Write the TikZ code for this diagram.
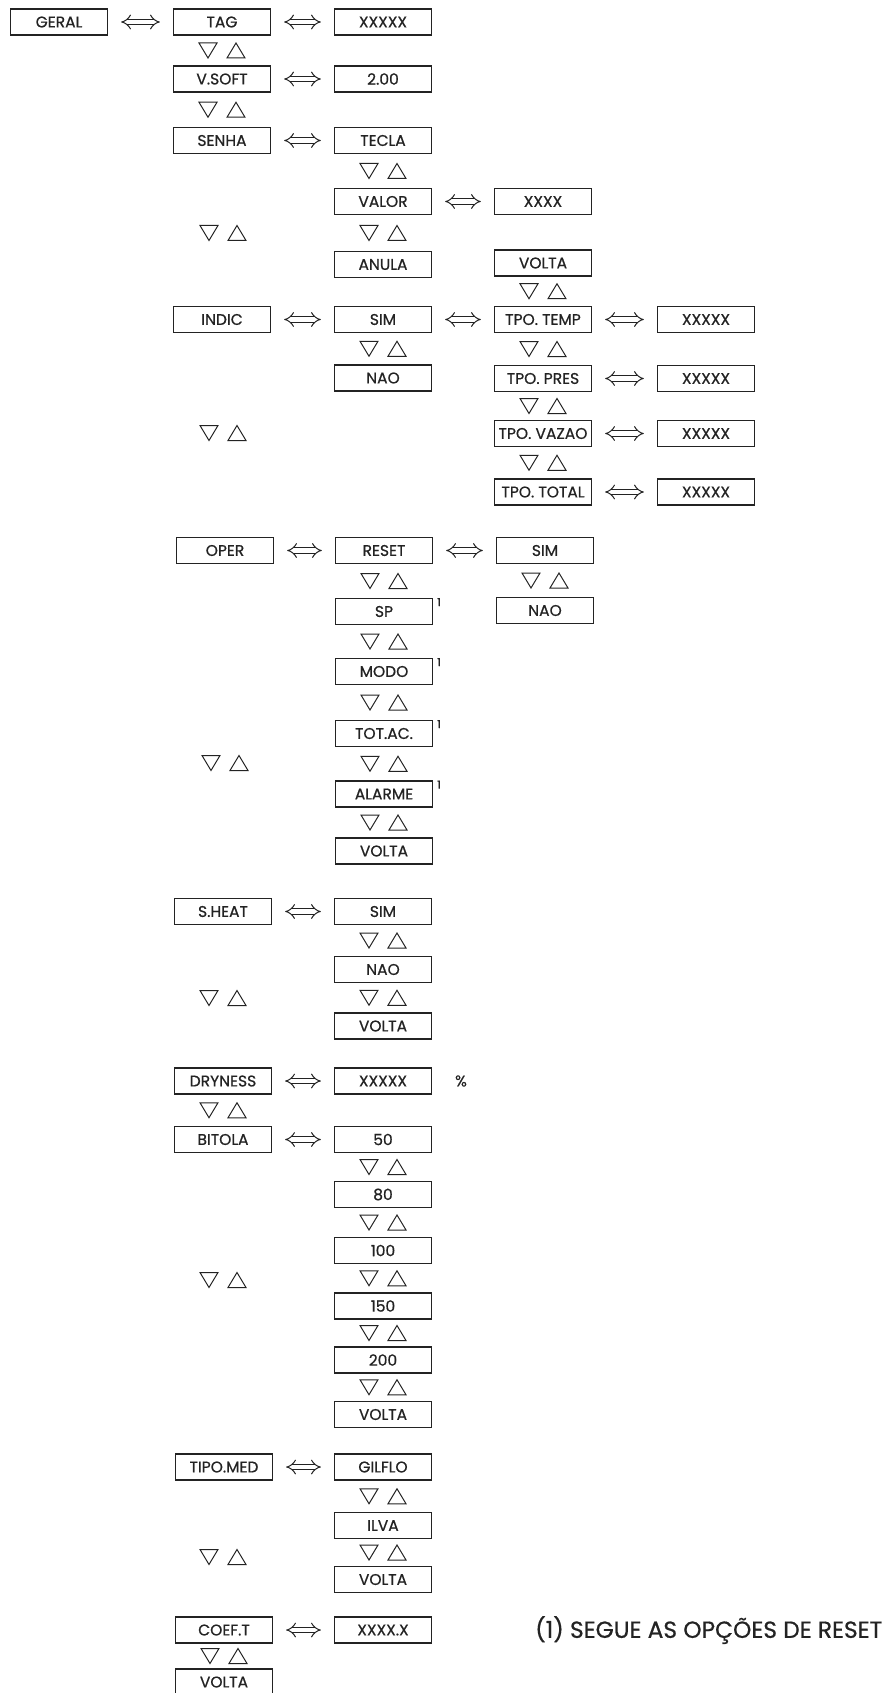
\documentclass[tikz,border=0pt]{standalone}
\usepackage{fontspec}
\setmainfont{Poppins}[FakeBold=0.7]
\usetikzlibrary{arrows.meta, calc}
\definecolor{inkgray}{RGB}{35, 35, 35}

\tikzset{
  menubox/.style={draw=inkgray, line width=1.2pt, minimum width=97pt, minimum height=26pt,
    inner sep=0pt, text=inkgray, font=\fontsize{15.5}{16}\selectfont},
  dblarrow/.style={draw=inkgray, double, double distance=4.2pt, line width=1pt,
    {Implies[length=6pt, width=15pt]}-{Implies[length=6pt, width=15pt]},
    shorten <=13pt, shorten >=13pt},
  navtri/.style={draw=inkgray, line width=1pt, line join=miter},
  fnmark/.style={anchor=north west, inner sep=0pt, text=inkgray, font=\fontsize{11}{11}\selectfont},
  updown/.pic={
    \draw[navtri] (-23,-7.5) -- (-5,-7.5) -- (-14,7.5) -- cycle;
    \draw[navtri] (5,7.5) -- (23,7.5) -- (14,-7.5) -- cycle;
  }
}

\begin{document}
\begin{tikzpicture}[x=1pt, y=-1pt]
    \useasboundingbox (0,0) rectangle (890,1693);
    \clip (0,0) rectangle (890,1693);
    % menu boxes
    \foreach \n/\x/\y/\t in {
        geral/59/22/GERAL, tag/222/22/TAG, tagval/383/22/XXXXX,
        vsoft/222/79/V.SOFT, vsoftval/383/79/2.00,
        senha/222/140.5/SENHA, tecla/383/140.5/TECLA,
        valor/383/201.5/VALOR, valorval/543/201.5/XXXX,
        anula/383/264.5/ANULA, tpovolta/543/263/VOLTA,
        indic/222/319.5/INDIC, indsim/383/319.5/SIM, indnao/383/378/NAO,
        tpotemp/543/319.5/TPO. TEMP, tempval/706/319.5/XXXXX,
        tpopres/543/378.5/TPO. PRES, presval/706/378.5/XXXXX,
        tpovazao/543/433.5/TPO. VAZAO, vazaoval/706/433.5/XXXXX,
        tpototal/543/492/TPO. TOTAL, totalval/706/492/XXXXX,
        oper/225/550.5/OPER, reset/384/550.5/RESET, rstsim/545/550.5/SIM, rstnao/545/610.5/NAO,
        sp/384/611.5/SP, modo/384/671.5/MODO, totac/384/733.5/TOT.AC.,
        alarme/384/794/ALARME, opvolta/384/851/VOLTA,
        sheat/223/911.5/S.HEAT, shsim/383/911.5/SIM, shnao/383/969.5/NAO, shvolta/383/1026/VOLTA,
        dryness/223/1081/DRYNESS, dryval/383/1081/XXXXX,
        bitola/223/1139.5/BITOLA, b50/383/1139.5/50, b80/383/1194.5/80,
        b100/383/1250.5/100, b150/383/1306/150, b200/383/1360/200, bvolta/383/1414.5/VOLTA,
        tipomed/224/1467/TIPO.MED, gilflo/383/1467/GILFLO,
        ilva/383/1525.5/ILVA, tmvolta/383/1579.5/VOLTA,
        coeft/224/1630/COEF.T, coefval/383/1630/XXXX.X,
        endvolta/224/1682/VOLTA
    }{
      \node[menubox] (\n) at (\x,\y) {\t};
    }
    % enter / leave
    \foreach \a/\b in {geral/tag, tag/tagval, vsoft/vsoftval, senha/tecla, valor/valorval,
        indic/indsim, indsim/tpotemp, tpotemp/tempval, tpopres/presval,
        tpovazao/vazaoval, tpototal/totalval, oper/reset, reset/rstsim,
        sheat/shsim, dryness/dryval, bitola/b50, tipomed/gilflo, coeft/coefval}{
      \draw[dblarrow] (\a) -- (\b);
    }
    % scroll keys between boxes
    \foreach \a/\b in {tag/vsoft, vsoft/senha, tecla/valor, valor/anula,
        tpovolta/tpotemp, tpotemp/tpopres, tpopres/tpovazao, tpovazao/tpototal,
        indsim/indnao, reset/sp, sp/modo, modo/totac, totac/alarme, alarme/opvolta,
        rstsim/rstnao, shsim/shnao, shnao/shvolta, dryness/bitola,
        b50/b80, b80/b100, b100/b150, b150/b200, b200/bvolta,
        gilflo/ilva, ilva/tmvolta, coeft/endvolta}{
      \pic at ($(\a.south)!0.5!(\b.north)$) {updown};
    }
    % scroll keys of the main menu
    \foreach \x/\y in {223/233, 223/433, 225/763, 223/998, 223/1280, 223/1557}{
      \pic at (\x,\y) {updown};
    }
    \foreach \n in {sp, modo, totac, alarme}{
      \node[fnmark] (\n note) at ([xshift=4pt]\n.north east) {1};
    }
    \node[text=inkgray, font=\fontsize{15.5}{16}\selectfont] (pct) at (461,1081) {\%};
    \node[anchor=west, inner sep=0pt, text=inkgray, font=\fontsize{23.3}{24}\selectfont]
      (footnote) at (535,1630) {(1) SEGUE AS OPÇÕES DE RESET};
  \end{tikzpicture}
\end{document}
